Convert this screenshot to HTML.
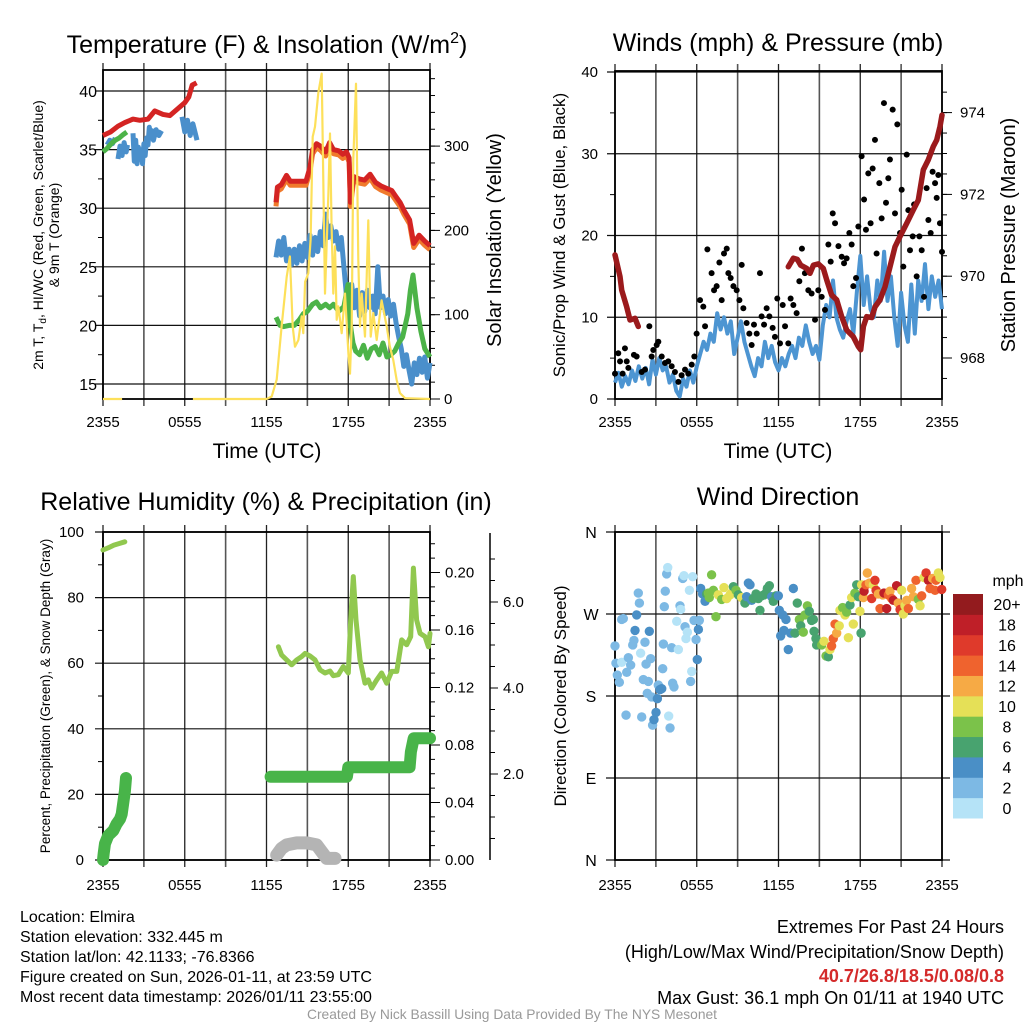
<!DOCTYPE html>
<html><head><meta charset="utf-8"><style>
html,body{margin:0;padding:0;background:#fff}
svg{display:block;font-family:"Liberation Sans",Arial,sans-serif}
</style></head><body>
<svg id="fig" width="1024" height="1024" viewBox="0 0 1024 1024" xmlns="http://www.w3.org/2000/svg">
<rect width="1024" height="1024" fill="#fff"/>
<g id="p1"></g>
<g id="p2"></g>
<g id="p3"></g>
<g id="p4"></g>

<text x="267" y="53" font-size="25" text-anchor="middle">Temperature (F) &amp; Insolation (W/m<tspan dy="-10" font-size="16">2</tspan><tspan dy="10">)</tspan></text>
<text x="778" y="51" font-size="25" text-anchor="middle">Winds (mph) &amp; Pressure (mb)</text>
<text x="266" y="510" font-size="25" text-anchor="middle">Relative Humidity (%) &amp; Precipitation (in)</text>
<text x="778" y="505" font-size="25" text-anchor="middle">Wind Direction</text>

<text x="267" y="458" font-size="21" text-anchor="middle">Time (UTC)</text>
<text x="778" y="458" font-size="21" text-anchor="middle">Time (UTC)</text>

<text transform="translate(43,235) rotate(-90)" font-size="14" text-anchor="middle">2m T, T<tspan dy="3" font-size="10">d</tspan><tspan dy="-3">, HI/WC (Red, Green, Scarlet/Blue)</tspan></text>
<text transform="translate(59,235) rotate(-90)" font-size="14" text-anchor="middle">&amp; 9m T (Orange)</text>
<text transform="translate(501,240) rotate(-90)" font-size="20" text-anchor="middle">Solar Insolation (Yellow)</text>
<text transform="translate(565,235) rotate(-90)" font-size="17" text-anchor="middle">Sonic/Prop Wind &amp; Gust (Blue, Black)</text>
<text transform="translate(1015,235) rotate(-90)" font-size="20" text-anchor="middle">Station Pressure (Maroon)</text>
<text transform="translate(50,696) rotate(-90)" font-size="13.5" text-anchor="middle">Percent, Precipitation (Green), &amp; Snow Depth (Gray)</text>
<text transform="translate(566,696) rotate(-90)" font-size="17" text-anchor="middle">Direction (Colored By Speed)</text>

<g font-size="16">
<text x="20" y="922">Location: Elmira</text>
<text x="20" y="942">Station elevation: 332.445 m</text>
<text x="20" y="962">Station lat/lon: 42.1133; -76.8366</text>
<text x="20" y="982">Figure created on Sun, 2026-01-11, at 23:59 UTC</text>
<text x="20" y="1002">Most recent data timestamp: 2026/01/11 23:55:00</text>
</g>
<g font-size="18" text-anchor="end">
<text x="1004" y="933">Extremes For Past 24 Hours</text>
<text x="1004" y="958">(High/Low/Max Wind/Precipitation/Snow Depth)</text>
<text x="1004" y="982" fill="#d42a2a" font-weight="bold">40.7/26.8/18.5/0.08/0.8</text>
<text x="1004" y="1004">Max Gust: 36.1 mph On 01/11 at 1940 UTC</text>
</g>
<text x="512" y="1019" font-size="13.8" fill="#999" text-anchor="middle">Created By Nick Bassill Using Data Provided By The NYS Mesonet</text>
</svg>
<script>
// ---------- DATA ----------
const xTickLabels = ["2355","0555","1155","1755","2355"];
// Panel 1
const tempTickLabels = [15,20,25,30,35,40];
const solarTickLabels = [0,100,200,300];
const tempT = [0,0.55,1.1,1.6,2.2,2.7,3.3,3.8,4.4,4.9,5.5,6.0,6.3,6.55,6.87,null,12.7,12.8,13.08,13.47,13.75,14.04,14.42,14.9,15.19,15.38,15.67,15.96,16.34,16.63,16.91,17.3,17.59,17.87,18.06,18.16,18.4,18.8,19.2,19.6,20.0,20.4,20.8,21.2,21.5,21.8,22.1,22.5,22.8,23.2,23.6,24];
const tempV = [36.2,36.5,37,37.3,37.6,37.5,37.6,38.3,38,37.9,38.5,39,39.5,40.5,40.7,null,30.5,31.8,32,32.8,32.3,32.3,32.3,32.3,33.5,35,35.5,35.3,34.8,35.6,35,34.9,34.6,34.8,34.3,30.5,32.7,32.5,32.4,32.9,32.2,31.9,31.7,31.5,31,30.5,29.8,29,27,27.7,27.2,26.8];
const tdT = [0.3,0.5,0.7,0.9,null,1.1,1.25,1.4,1.55,1.7,1.8,null,2.2,2.3,2.4,2.5,2.6,2.7,2.8,2.9,3.0,3.1,3.2,3.3,3.4,3.5,3.6,3.7,3.9,4.1,4.3,null,5.8,6.0,6.2,6.4,6.6,6.9,null,
12.7,12.89,13.08,13.27,13.47,13.66,13.85,14.04,14.23,14.42,14.61,14.81,15.0,15.19,15.38,15.57,15.76,15.95,16.15,16.34,16.53,16.72,16.91,17.1,17.3,17.49,17.68,17.87,18.06,18.25,18.44,18.64,18.83,19.02,19.21,19.4,19.59,19.78,19.98,20.17,20.36,20.55,20.74,20.93,21.12,21.32,21.51,21.7,21.89,22.08,22.27,22.46,22.66,22.85,23.04,23.23,23.42,23.61,23.81,24];
const tdV = [35.4,35.8,35.5,36.0,null,34.2,35.3,34.5,35.6,34.8,35.4,null,36.4,34.0,35.8,33.8,35.2,34.2,35.0,33.8,35.5,34.5,36.0,35.4,36.9,36.2,36.6,35.8,36.7,36.2,36.6,null,37.8,36.5,37.5,36.2,37.2,35.8,null,
25.8,27.2,26,27.5,25.5,26.5,25.2,26.5,25.3,26.8,25.5,27,25.8,27.7,26,27.5,26.3,28,26.8,29.5,27.5,28.5,27.2,28,26.5,27.5,25,22.5,20,23.5,21.5,23,20.8,22.8,21.2,23,21.5,22.5,21,25,21.5,22.5,21,22.2,20.8,21.8,20.2,19,18,16.5,17.5,16.2,15,16.8,15.8,17.2,16,17.3,15.5,16.8];
const wcT = [0,0.3,0.6,0.9,1.2,1.5,1.75,null,12.7,12.99,13.27,13.66,14.04,14.42,14.71,15.0,15.38,15.67,15.96,16.34,16.63,16.91,17.3,17.68,17.98,18.16,18.35,18.55,18.83,19.12,19.4,19.69,19.98,20.27,20.55,20.84,21.13,21.41,21.7,21.99,22.18,22.37,22.56,22.75,23.04,23.33,23.62,24];
const wcV = [34.8,35.1,35.5,35.8,36.0,36.3,36.5,null,20.7,20,19.9,20,20,20.5,21,21.2,21.8,22,21.5,21.8,21.5,21.8,21.2,21.6,23.5,20,18.5,17.8,17.5,18.3,17.2,18.0,18.2,17.5,18.5,17.3,17.5,17.8,18.5,19,20,21,23,24.3,21.5,19.5,18,17.3];
const solarT = [0,1.4,null,6.6,12.0,12.38,12.75,13.11,13.48,13.72,13.92,14.09,14.34,14.58,14.70,14.83,15.07,15.24,15.39,15.56,15.80,16.05,16.29,16.54,16.66,16.78,16.90,17.03,17.15,17.27,17.52,17.76,18.01,18.13,18.25,18.37,18.57,18.74,18.86,18.99,19.23,19.47,19.65,19.84,20.09,20.45,20.82,21.06,21.31,21.55,21.80,22.17,24];
const solarV = [0,0,null,0,0,3,23,86,145,169,86,62,70,98,78,139,149,189,311,323,363,386,125,244,315,204,125,181,94,110,78,125,54,30,86,284,374,165,86,125,74,212,74,102,70,117,86,62,46,23,7,1,0];
// Panel 2
const windTickLabels = [0,10,20,30,40];
const presTickLabels = [968,970,972,974];
const windT = [0,0.25,0.5,0.75,1,1.25,1.5,1.75,2,2.25,2.5,2.75,3,3.25,3.5,3.75,4,4.25,4.5,4.75,5,5.25,5.5,5.75,6,6.25,6.5,6.75,7,7.25,7.5,7.75,8,8.25,8.5,8.75,9,9.25,9.5,9.75,10,10.25,10.5,10.75,11,11.25,11.5,11.75,12,12.25,12.5,12.75,13,13.25,13.5,13.75,14,14.25,14.5,14.75,15,15.25,15.5,15.75,16,16.25,16.5,16.75,17,17.25,17.5,17.75,18,18.25,18.5,18.75,19,19.25,19.5,19.75,20,20.25,20.5,20.75,21,21.25,21.5,21.75,22,22.25,22.5,22.75,23,23.25,23.5,23.75,24];
const windV = [2.0,3.2,1.5,2.8,1.8,3.5,2.2,4.0,2.5,3.8,1.8,4.8,3.0,5.0,3.5,4.0,2.0,3.0,1.0,0.3,2.5,1.5,3.5,2.0,4.0,5.5,7.0,6.0,8.0,7.0,10.5,8.5,10.0,8.0,9.5,5.5,7.5,9.5,7.0,5.5,4.0,2.8,5.0,4.0,7.0,5.0,6.5,4.5,3.5,5.0,4.0,5.5,6.5,5.0,7.5,6.5,9.0,7.0,5.5,6.5,4.8,9.0,11.5,10.0,14.5,10.0,8.5,7.5,9.5,11.0,8.0,13.0,17.5,11.5,15.0,11.0,10.0,14.5,12.0,18.0,12.0,15.0,10.0,6.5,13.0,9.0,7.0,14.0,8.0,14.5,12.0,16.5,11.0,15.0,12.5,14.5,11.0];
const gustT = [0,0.24,0.37,0.56,0.73,0.86,0.98,1.39,1.59,1.96,2.2,2.52,2.69,2.81,3.06,3.18,3.43,3.67,3.91,4.16,4.4,4.65,4.89,5.14,5.38,5.63,5.82,5.99,6.24,6.48,6.61,6.78,7.09,7.27,7.46,7.66,7.83,8.0,8.2,8.32,8.49,8.69,8.93,9.13,9.3,9.42,9.66,9.86,10.03,10.2,10.4,10.64,10.76,10.94,11.13,11.33,11.57,11.74,11.91,12.11,12.31,12.48,12.72,12.89,13.09,13.33,13.53,13.72,13.94,14.19,14.43,14.68,14.92,15.17,15.41,15.66,15.83,15.98,16.15,16.4,16.64,16.81,17.0,17.2,17.37,17.49,17.69,17.86,18.1,18.28,18.42,18.59,18.76,18.91,19.08,19.2,19.4,19.57,19.74,19.89,20.06,20.18,20.38,20.55,20.72,20.92,21.04,21.16,21.41,21.53,21.65,21.85,21.95,22.14,22.34,22.51,22.68,22.87,23.0,23.17,23.31,23.49,23.61,23.73,23.85,24];
const gustV = [3.1,5.6,4.6,3.1,6.2,4.6,3.8,5.4,5.2,3.3,3.6,8.9,5.2,6.0,6.6,7.0,5.2,4.4,4.6,4.0,3.3,2.1,2.9,3.6,3.1,4.2,5.2,8.0,12.1,11.3,8.9,18.3,15.4,13.3,13.8,16.7,12.1,17.8,18.4,15.4,14.8,13.8,13.3,12.1,16.4,11.1,9.3,8.0,6.6,9.1,8.0,15.4,10.1,9.1,11.1,10.1,8.7,7.6,12.3,6.8,11.5,8.9,6.8,12.3,11.5,10.5,14.4,18.4,15.4,13.3,12.9,9.7,13.3,12.5,10.9,18.9,16.8,22.7,21.5,18.7,17.4,16.6,17.2,20.3,18.9,13.8,14.8,21.1,29.7,24.4,20.7,27.6,21.5,28.2,31.7,17.8,26.4,22.1,36.2,24.0,27.0,29.3,35.4,22.7,33.6,20.3,25.6,16.2,29.9,23.1,18.2,19.9,23.8,15.0,19.9,18.2,12.5,25.8,21.9,20.3,27.8,26.4,24.6,27.4,21.5,18.0];
const presT = [0,0.37,0.49,0.86,1.10,1.47,1.71,null,12.72,13.09,13.38,13.63,14.07,14.31,14.56,14.92,15.29,15.54,15.90,16.27,16.64,17.01,17.49,17.86,18.03,18.23,18.47,18.84,19.08,19.45,19.82,20.18,20.55,20.92,21.41,21.89,22.26,22.63,22.99,23.36,23.61,23.85,24];
const presV = [970.52,969.99,969.66,969.25,968.93,968.97,968.77,null,970.23,970.44,970.41,970.27,970.19,970.07,970.27,970.30,970.19,969.91,969.54,969.42,969.01,968.68,968.52,968.28,968.20,968.77,969.01,968.99,969.25,969.42,969.74,970.23,970.72,970.97,971.29,971.62,971.86,972.60,972.84,973.17,973.33,973.66,973.94];
// Panel 3
const rhTickLabels = [0,20,40,60,80,100];
const precipTickLabels = ["0.00","0.04","0.08","0.12","0.16","0.20"];
const snowTickLabels = ["2.0","4.0","6.0"];
const rhT = [0,0.4,0.8,1.2,1.6,null,12.87,13.11,13.48,13.85,14.22,14.58,14.83,15.19,15.56,15.93,16.29,16.66,16.9,17.27,17.64,18.0,18.18,18.37,18.57,18.86,19.23,19.47,19.72,20.09,20.45,20.82,21.19,21.56,21.92,22.29,22.58,22.78,23.02,23.27,23.63,23.88,24];
const rhV = [94.5,95.2,96,96.5,97,null,65.0,62.5,61.0,59.5,61.0,62.0,63.0,62.2,61.0,58.0,57.0,57.6,56.2,56.5,59.0,57.0,73.2,86.4,73.2,61.0,53.9,54.9,52.4,54.9,57.0,53.9,57.5,57.5,67.1,65.6,68.1,89.0,73.2,69.1,68.1,65.0,69.1];
const precipT = [0,0.05,0.15,0.39,0.76,1.0,1.25,1.37,1.49,1.61,1.69,null,12.3,17.9,18.0,22.5,22.6,22.8,22.9,24];
const precipV = [0,2,5,7.5,9,11,12.5,14,17.5,21,25,null,25.4,25.4,28.3,28.3,33,37.1,37.1,37.1];
const snowT = [12.75,13.1,13.48,14.22,14.95,15.68,16.05,16.42,17.03];
const snowV = [1.5,3.5,4.6,5.2,5.2,4.6,2.5,0.5,0.5];
// Panel 4
const dirTickLabels = ["N","E","S","W","N"];
const speedBinLabels = ["0","2","4","6","8","10","12","14","16","18","20+"];
const speedColors = ["#b5e3f7","#7db9e4","#4a8fc6","#48a36f","#7bc24a","#e5e057","#f6aa45","#ef632e","#df3a2b","#bf1f28","#931b1e"];
const dirT = [0,0.07,0.17,0.32,0.49,0.61,0.49,0.81,0.86,0.98,1.15,1.3,1.39,1.47,1.59,1.71,1.79,1.88,1.96,2.08,2.2,2.28,2.37,2.45,2.52,2.62,2.69,2.76,2.86,3.01,3.11,3.18,3.3,3.43,3.5,3.55,3.62,3.69,3.79,3.87,3.94,4.04,4.16,4.23,4.33,4.53,4.65,4.77,4.82,4.97,5.06,5.14,5.21,5.31,5.46,5.55,5.63,5.7,5.8,5.95,6.04,6.12,6.19,6.29,6.43,6.61,6.73,6.85,6.92,7.09,7.22,7.41,7.58,7.83,8.0,8.2,8.44,8.56,8.69,8.88,9.05,9.3,9.54,9.66,9.79,9.91,10.03,10.15,10.35,10.52,10.64,10.76,10.94,11.08,11.18,11.33,11.5,11.62,11.82,11.99,12.06,12.16,12.31,12.4,12.55,12.72,12.89,13.09,13.21,13.38,13.53,13.63,13.82,13.94,14.12,14.26,14.43,14.56,14.61,14.75,14.8,15.0,15.17,15.34,15.49,15.66,15.78,15.9,16.02,16.15,16.27,16.46,16.51,16.71,16.88,17.0,17.13,17.25,17.37,17.49,17.61,17.74,17.86,17.98,18.06,18.1,18.23,18.28,18.42,18.52,18.67,18.84,18.96,19.08,19.16,19.33,19.45,19.65,19.74,19.94,20.06,20.18,20.31,20.43,20.67,20.79,20.92,21.04,21.16,21.28,21.41,21.53,21.77,21.9,22.09,22.26,22.39,22.51,22.68,22.83,23.0,23.12,23.31,23.49,23.56,23.73,23.85,23.98];
const dirV = [235,216,203,195,264,265,217,159,206,222,214,236,241,252,269,293,282,227,157,198,239,215,183,196,251,221,179,148,154,162,177,192,187,188,210,237,278,295,314,321,158,145,233,194,190,262,231,279,275,309,312,256,243,250,296,196,207,311,263,242,220,253,263,298,292,284,292,293,288,313,296,267,291,286,299,287,291,293,300,296,291,288,282,289,304,302,285,287,292,287,274,290,291,293,298,301,289,284,290,290,274,246,269,252,264,231,249,298,249,282,264,257,250,269,279,273,263,264,251,243,236,238,236,240,224,223,231,235,243,259,249,257,274,277,269,272,244,280,288,259,293,302,289,273,249,302,288,295,302,315,304,287,302,307,296,292,276,291,293,276,291,295,287,285,301,282,275,296,270,279,285,276,298,289,307,286,279,290,310,315,307,298,309,296,307,315,310,297];
const dirS = [2.5,2.5,2.5,2.5,2.5,2.5,0.5,2.5,2.5,2.5,2.5,2.5,2.5,4.5,4.5,2.5,2.5,0.5,2.5,2.5,2.5,2.5,2.5,2.5,4.5,2.5,2.5,2.5,4.5,4.5,4.5,2.5,4.5,4.5,2.5,2.5,2.5,2.5,2.5,0.5,0.5,2.5,2.5,2.5,2.5,0.5,0.5,2.5,0.5,2.5,0.5,2.5,0.5,0.5,0.5,2.5,0.5,0.5,2.5,2.5,4.5,4.5,2.5,4.5,4.5,4.5,6.5,8.5,8.5,8.5,8.5,8.5,10.5,8.5,10.5,10.5,10.5,10.5,6.5,8.5,6.5,10.5,6.5,4.5,4.5,4.5,4.5,6.5,6.5,6.5,6.5,6.5,6.5,6.5,6.5,6.5,4.5,6.5,6.5,4.5,4.5,4.5,4.5,4.5,4.5,4.5,4.5,4.5,6.5,6.5,8.5,6.5,8.5,8.5,8.5,6.5,6.5,6.5,6.5,6.5,6.5,6.5,8.5,10.5,8.5,6.5,10.5,14.5,14.5,14.5,12.5,10.5,10.5,8.5,10.5,8.5,10.5,6.5,10.5,10.5,8.5,6.5,6.5,10.5,6.5,10.5,12.5,18.5,14.5,12.5,12.5,16.5,10.5,16.5,16.5,12.5,14.5,12.5,18.5,18.5,14.5,12.5,14.5,18.5,18.5,12.5,16.5,10.5,10.5,10.5,12.5,14.5,12.5,12.5,14.5,8.5,10.5,14.5,10.5,16.5,18.5,14.5,12.5,14.5,14.5,10.5,10.5,16.5,12.5];

// ---------- HELPERS ----------
const NS = "http://www.w3.org/2000/svg";
function mk(parent, tag, attrs){const e=document.createElementNS(NS,tag);for(const k in attrs)e.setAttribute(k,attrs[k]);parent.appendChild(e);return e;}
function pathFrom(ts, vs, sx, sy){let d="",pen=false;for(let i=0;i<ts.length;i++){if(ts[i]===null||vs[i]===null){pen=false;continue;}d+=(pen?"L":"M")+sx(ts[i]).toFixed(1)+","+sy(vs[i]).toFixed(1);pen=true;}return d;}
function txt(parent,x,y,s,size,anchor){const t=mk(parent,"text",{x:x,y:y,"font-size":size,"text-anchor":anchor||"middle"});t.textContent=s;return t;}

function frame(g,L,R,T,B,hLines,opts){
  for(let k=0;k<=8;k++){const x=L+(R-L)*k/8;
    const ln=mk(g,"line",{x1:x,y1:T-7,x2:x,y2:B+7,stroke:(k%2?"#555":"#222"),"stroke-width":k%2?1.6:1.3});
    
    }
  hLines.forEach(y=>{const ln=mk(g,"line",{x1:L-(opts.hl||8),x2:R+(opts.hr||0),y1:y,y2:y,stroke:"#111","stroke-width":1.2});
    
    });
  const r=mk(g,"rect",{x:L,y:T,width:R-L,height:B-T,fill:"none",stroke:"#000","stroke-width":1.8});
  
  
  xTickLabels.forEach((s,i)=>{const t=txt(g,L+(R-L)*i/4,opts.xly,s,15);
    
    });
}
function ticks(g,x,ys,len,w){ys.forEach(y=>mk(g,"line",{x1:x,x2:x+len,y1:y,y2:y,stroke:"#000","stroke-width":w||1}));}

// ---------- PANEL 1 ----------
(function(){
  const g=document.getElementById("p1");
  const L=103,R=430,T=70,B=399;
  const sx=h=>L+(R-L)*h/24;
  const sy=v=>384-(v-15)*58.6/5;
  const sy2=v=>399-v*0.843;
  frame(g,L,R,T,B,tempTickLabels.map(sy),{xly:427});
  const minors=[];for(let v=17.5;v<42;v+=5)minors.push(sy(v));ticks(g,L-5,minors,5);
  tempTickLabels.forEach(v=>{const t=txt(g,97,sy(v)+6,String(v),16,"end");
    
    });
  const rm=[];for(let v=0;v<=380;v+=20)rm.push(sy2(v));ticks(g,R,rm,5);
  solarTickLabels.forEach(v=>{mk(g,"line",{x1:R,x2:R+10,y1:sy2(v),y2:sy2(v),stroke:"#000"});
    const t=txt(g,444,sy2(v)+5,String(v),15,"start");
    
    });
  const tO=tempV.map(v=>v===null?null:v-0.35);
  let p=mk(g,"path",{d:pathFrom(tempT.slice(16),tO.slice(16),sx,sy),fill:"none",stroke:"#f07a2c","stroke-width":5,"stroke-linejoin":"round"});
  
  
  p=mk(g,"path",{d:pathFrom(tdT,tdV,sx,sy),fill:"none",stroke:"#4a8fcb","stroke-width":5,"stroke-linejoin":"round"});
  
  
  p=mk(g,"path",{d:pathFrom(wcT,wcV,sx,sy),fill:"none",stroke:"#4cb348","stroke-width":5,"stroke-linejoin":"round"});
  
  
  p=mk(g,"path",{d:pathFrom(tempT,tempV,sx,sy),fill:"none",stroke:"#d42423","stroke-width":5,"stroke-linejoin":"round"});
  
  
  p=mk(g,"path",{d:pathFrom(solarT,solarV,sx,sy2),fill:"none",stroke:"#fde05a","stroke-width":2.2,"stroke-linejoin":"round"});
  
  
})();

// ---------- PANEL 2 ----------
(function(){
  const g=document.getElementById("p2");
  const L=615,R=942,T=71,B=399;
  const sx=h=>L+(R-L)*h/24;
  const sy=v=>B-v*8.175;
  const sp=p=>358-(p-968)*40.9;
  frame(g,L,R,T,B,windTickLabels.map(sy),{xly:427});
  const mn=[];for(let v=5;v<40;v+=10)mn.push(sy(v));ticks(g,L-5,mn,5);
  windTickLabels.forEach(v=>{const t=txt(g,598,sy(v)+5,String(v),15,"end");
    
    });
  const rm=[];for(let p=967.5;p<=974.6;p+=0.5)rm.push(sp(p));ticks(g,R,rm,5);
  presTickLabels.forEach(v=>{mk(g,"line",{x1:R,x2:R+10,y1:sp(v),y2:sp(v),stroke:"#000"});
    const t=txt(g,960,sp(v)+5,String(v),15,"start");
    
    });
  let p=mk(g,"path",{d:pathFrom(windT,windV,sx,sy),fill:"none",stroke:"#4d95d2","stroke-width":4,"stroke-linejoin":"round"});
  
  
  gustT.forEach((t,i)=>{const c=mk(g,"circle",{cx:sx(t),cy:sy(gustV[i]),r:3,fill:"#000"});
    
    });
  p=mk(g,"path",{d:pathFrom(presT,presV,sx,sp),fill:"none",stroke:"#9b1a1c","stroke-width":5.5,"stroke-linejoin":"round","stroke-linecap":"round"});
  
  
})();

// ---------- PANEL 3 ----------
(function(){
  const g=document.getElementById("p3");
  const L=103,R=430,T=532,B=860;
  const sx=h=>L+(R-L)*h/24;
  const sy=v=>B-v*3.28;
  const spr=v=>B-v*1437.5;
  const ssn=v=>B-v*43;
  frame(g,L,R,T,B,rhTickLabels.map(sy),{xly:890});
  const mn=[];for(let v=10;v<100;v+=20)mn.push(sy(v));ticks(g,L-5,mn,5);
  rhTickLabels.forEach(v=>{const t=txt(g,84,sy(v)+5,String(v),15,"end");
    
    });
  const rm=[];for(let v=0;v<=0.225;v+=0.01)rm.push(spr(v));ticks(g,R,rm,5);
  precipTickLabels.forEach(s=>{const v=parseFloat(s);mk(g,"line",{x1:R,x2:R+10,y1:spr(v),y2:spr(v),stroke:"#000"});
    const t=txt(g,445,spr(v)+5,s,15,"start");
    
    });
  const ax=mk(g,"line",{x1:490,x2:490,y1:533,y2:860,stroke:"#000","stroke-width":1.5});
  
  
  const sm=[];for(let v=0.5;v<=7.4;v+=0.5)sm.push(ssn(v));ticks(g,490,sm,5);
  snowTickLabels.forEach(s=>{const v=parseFloat(s);mk(g,"line",{x1:490,x2:498,y1:ssn(v),y2:ssn(v),stroke:"#000"});
    const t=txt(g,503,ssn(v)+5,s,15,"start");
    
    });
  let p=mk(g,"path",{d:pathFrom(snowT,snowV,sx,sy),fill:"none",stroke:"#b4b4b4","stroke-width":13,"stroke-linecap":"round","stroke-linejoin":"round"});
  
  
  p=mk(g,"path",{d:pathFrom(precipT,precipV,sx,sy),fill:"none",stroke:"#48b449","stroke-width":12,"stroke-linecap":"round","stroke-linejoin":"round"});
  
  
  p=mk(g,"path",{d:pathFrom(rhT,rhV,sx,sy),fill:"none",stroke:"#91c84f","stroke-width":5,"stroke-linecap":"round","stroke-linejoin":"round"});
  
  
})();

// ---------- PANEL 4 ----------
(function(){
  const g=document.getElementById("p4");
  const L=615,R=942,T=532,B=860;
  const sx=h=>L+(R-L)*h/24;
  const sy=d=>B-d*(B-T)/360;
  frame(g,L,R,T,B,[0,90,180,270,360].map(sy),{xly:890,hl:9,hr:8});
  dirTickLabels.forEach((s,i)=>{const t=txt(g,591,sy(i*90)+6,s,16);
    
    });
  dirT.forEach((t,i)=>{const bin=Math.min(10,Math.floor(dirS[i]/2));
    const c=mk(g,"circle",{cx:sx(t),cy:sy(dirV[i]),r:4.7,fill:speedColors[bin]});
    
    });
  const cb=mk(g,"g",{});
  
  
  const top=594,bh=(818-594)/11;
  speedBinLabels.forEach((s,i)=>{const y=top+(10-i)*bh;
    const r=mk(cb,"rect",{x:953,y:y,width:30,height:bh+0.5,fill:speedColors[i]});
    
    
    const t=txt(cb,1007,y+bh/2+6,s,16);
    
    });
  const u=txt(cb,1008,586,"mph",16);
  
  
})();
</script>
</body></html>
